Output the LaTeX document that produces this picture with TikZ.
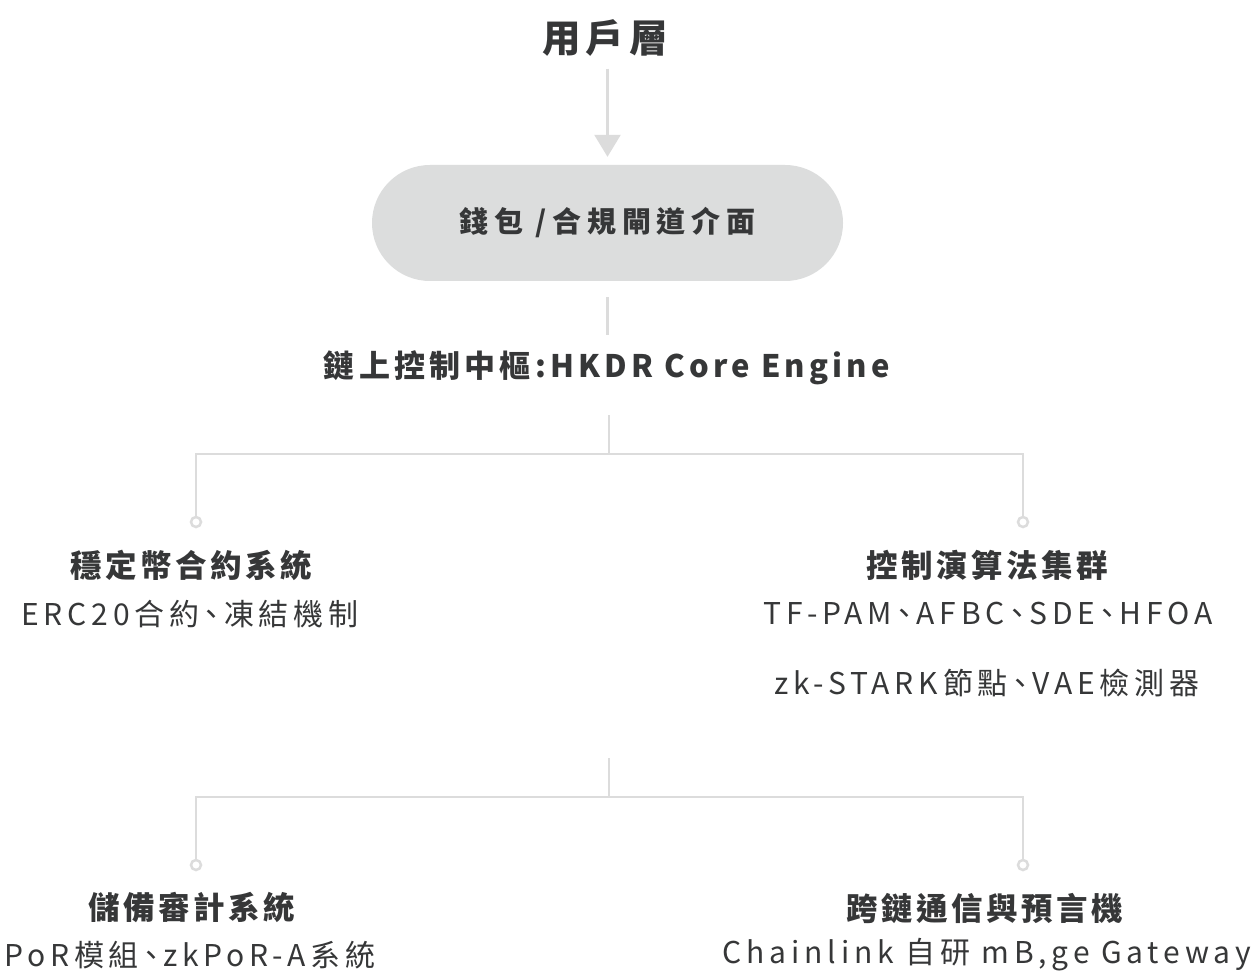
\documentclass[tikz,border=0pt]{standalone}
\usepackage{fontspec}
\setmainfont{Noto Sans CJK TC}
\newfontfamily\hdfont{Noto Sans CJK TC}[LetterSpace=11,RawFeature=+palt]
\newfontfamily\topfont{Noto Sans CJK TC}[LetterSpace=13,RawFeature=+palt]
\newfontfamily\corefont{Noto Sans CJK TC}[LetterSpace=13.5,RawFeature=+palt]
\newfontfamily\pillfont{Noto Sans CJK TC}[LetterSpace=20,RawFeature=+palt]
\newfontfamily\subfont{Noto Sans CJK TC}[LetterSpace=16,RawFeature=+palt]
\usetikzlibrary{arrows.meta}
\definecolor{txt}{HTML}{363738}
\definecolor{ln}{HTML}{DCDCDC}
\definecolor{pillbg}{HTML}{DCDDDD}
\begin{document}
\begin{tikzpicture}[x=1pt,y=-1pt,
  toptext/.style={text=txt,inner sep=0pt,font=\topfont\bfseries\fontsize{38.5}{45}\selectfont},
  pill/.style={fill=pillbg,rounded corners=58pt,minimum width=471pt,minimum height=116pt,inner sep=0pt,text=txt,font=\pillfont\bfseries\fontsize{29}{34}\selectfont},
  coretext/.style={text=txt,inner sep=0pt,font=\corefont\bfseries\fontsize{31}{37}\selectfont},
  headtext/.style={text=txt,inner sep=0pt,font=\hdfont\bfseries\fontsize{31.5}{37}\selectfont},
  subtext/.style={text=txt,inner sep=0pt,font=\subfont\fontsize{30}{36}\selectfont},
  conn/.style={draw=ln,line width=2.5pt},
  arr/.style={conn,-{Triangle[width=26pt,length=22pt]}},
  dot/.style={circle,draw=ln,line width=2.5pt,fill=white,minimum size=10pt,inner sep=0pt}]
\useasboundingbox[fill=white] (0,0) rectangle (1255,976);

\node[toptext] (user) at (605,38) {用戶層};
\node[pill] (gw) at (607.5,223) {錢包 /合規閘道介面};
\node[coretext] (core) at (607,368) {鏈上控制中樞:HKDR Core Engine};

\draw[arr,shorten <=12pt,shorten >=8pt] (user.south -| gw.north) -- (gw.north);
\draw[conn,shorten <=16pt,shorten >=16pt] (gw.south) -- (core.north -| gw.south);

% first tier
\coordinate (j1) at (609,454);
\node[dot] (c1) at (196,522) {};
\node[dot] (c2) at (1023,522) {};
\draw[conn,shorten <=30pt] (core.south -| j1) -- (j1);
\draw[conn] (c1) |- (j1) -| (c2);

\node[headtext] (h1) at (191,565) {穩定幣合約系統};
\node[subtext] (s1) at (190,614) {ERC20合約、凍結機制};
\node[headtext] (h2) at (987,565) {控制演算法集群};
\node[subtext] (s2) at (988,614) {TF-PAM、AFBC、SDE、HFOA};
\node[subtext] (s3) at (987,683) {zk-STARK節點、VAE檢測器};

% second tier
\coordinate (t2) at (609,758);
\coordinate (j2) at (609,797);
\node[dot] (c3) at (196,865) {};
\node[dot] (c4) at (1023,865) {};
\draw[conn] (t2) -- (j2);
\draw[conn] (c3) |- (j2) -| (c4);

\node[headtext] (h3) at (192,908) {儲備審計系統};
\node[subtext] (s4) at (190,955) {PoR模組、zkPoR-A系統};
\node[headtext] (h4) at (985,908) {跨鏈通信與預言機};
\node[subtext] (s5) at (987,955) {Chainlink 自研 mB,ge Gateway};
\end{tikzpicture}
\end{document}
